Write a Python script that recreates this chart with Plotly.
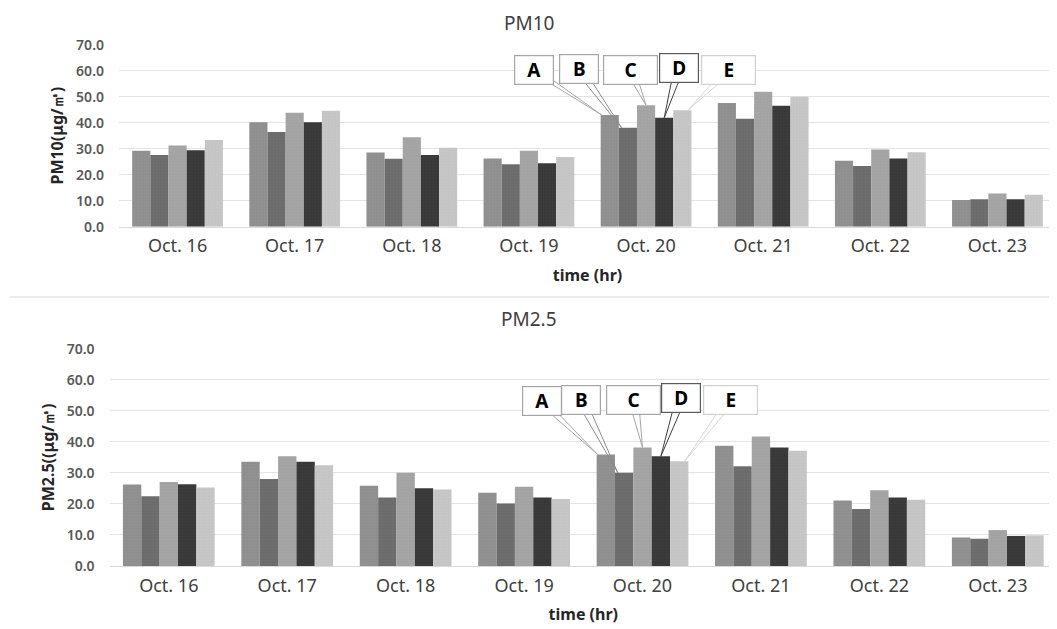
import plotly.graph_objects as go

categories = ["Oct. 16", "Oct. 17", "Oct. 18", "Oct. 19", "Oct. 20", "Oct. 21", "Oct. 22", "Oct. 23"]
series_names = ["A", "B", "C", "D", "E"]

pm10_A = [29.2, 40.2, 28.5, 26.2, 43.0, 47.6, 25.4, 10.3]
pm10_B = [27.6, 36.4, 26.1, 24.0, 38.1, 41.5, 23.3, 10.6]
pm10_C = [31.2, 43.8, 34.4, 29.2, 46.7, 51.9, 29.7, 12.8]
pm10_D = [29.4, 40.2, 27.6, 24.4, 41.9, 46.5, 26.2, 10.6]
pm10_E = [33.3, 44.6, 30.4, 26.8, 44.8, 50.0, 28.6, 12.3]

pm25_A = [26.3, 33.6, 25.9, 23.6, 36.0, 38.8, 21.1, 9.2]
pm25_B = [22.5, 28.1, 22.1, 20.2, 30.1, 32.2, 18.4, 8.8]
pm25_C = [27.1, 35.4, 30.1, 25.6, 38.2, 41.8, 24.4, 11.6]
pm25_D = [26.4, 33.6, 25.1, 22.1, 35.4, 38.2, 22.1, 9.7]
pm25_E = [25.3, 32.5, 24.7, 21.6, 33.8, 37.2, 21.4, 9.9]

pm10_series = [pm10_A, pm10_B, pm10_C, pm10_D, pm10_E]
pm25_series = [pm25_A, pm25_B, pm25_C, pm25_D, pm25_E]

bar_colors = ["#8e8e8e", "#6b6b6b", "#a2a2a2", "#383838", "#c4c4c4"]
pattern_colors = ["#9a9a9a", "#777777", "#adadad", "#444444", "#cfcfcf"]
callout_border = ["#a6a6a6", "#a6a6a6", "#a6a6a6", "#5a5a5a", "#d0d0d0"]
callout_line = ["#a6a6a6", "#8c8c8c", "#a6a6a6", "#404040", "#d6d6d6"]

FONT = "Noto Sans"
BARGAP = 0.225
ANNOT_CAT = 4  # Oct. 20

# page body has an 8px margin, so the figure is drawn 8px in from the window corner
W, H = 1049, 621

fig = go.Figure()

for i, name in enumerate(series_names):
    for vals, xa, ya in ((pm10_series[i], "x", "y"), (pm25_series[i], "x2", "y2")):
        fig.add_trace(go.Bar(
            x=categories, y=vals, name=name, xaxis=xa, yaxis=ya,
            marker=dict(color=bar_colors[i], line=dict(width=0),
                        pattern=dict(shape=".", fgcolor=pattern_colors[i], size=3, solidity=0.25)),
            offsetgroup=name, showlegend=False,
        ))

grid = "#e3e3e3"
yax = dict(range=[0, 70], dtick=10, tickformat=".1f", showgrid=True, gridcolor=grid,
           gridwidth=1, zeroline=False, showline=False, ticks="", ticklabelstandoff=14,
           tickfont=dict(family=FONT, size=14, color="#595959", weight=600), automargin=False,
           fixedrange=True)
xax = dict(type="category", showgrid=False, zeroline=False, showline=True, linecolor="#d9d9d9",
           linewidth=1, ticks="", tickfont=dict(family=FONT, size=18, color="#404040"),
           automargin=False, ticklabelstandoff=3)

xtitle_font = dict(family=FONT, size=16, color="#262626", weight="bold")
ytitle_font = dict(family=FONT, size=16, color="#262626", weight="bold")

fig.update_layout(
    width=W, height=H, margin=dict(l=0, r=0, t=0, b=0),
    paper_bgcolor="white", plot_bgcolor="white",
    barmode="group", bargap=BARGAP, bargroupgap=0,
    xaxis=dict(xax, domain=[0.10582, 0.99905], anchor="y",
               title=dict(text="time (hr)", font=xtitle_font, standoff=13)),
    yaxis=dict(yax, domain=[0.64783, 0.94090], anchor="x",
               title=dict(text="PM10(μg/㎥)", font=ytitle_font, standoff=8)),
    xaxis2=dict(xax, domain=[0.09685, 1.0], anchor="y2",
                title=dict(text="time (hr)", font=xtitle_font, standoff=13)),
    yaxis2=dict(yax, domain=[0.10145, 0.45089], anchor="x2",
                title=dict(text="PM2.5((μg/㎥)", font=ytitle_font, standoff=8)),
)

# chart titles
fig.add_annotation(text="PM10", xref="paper", yref="paper", x=520.5 / W, y=1.0,
                   showarrow=False, font=dict(family=FONT, size=19, color="#404040"),
                   xanchor="center", yanchor="top")
fig.add_annotation(text="PM2.5", xref="paper", yref="paper", x=520.5 / W, y=1 - 311 / H,
                   showarrow=False, font=dict(family=FONT, size=19, color="#404040"),
                   xanchor="center", yanchor="middle")

# separator between the two charts
fig.add_shape(type="line", xref="paper", yref="paper", x0=2 / W, x1=1042 / W,
              y0=1 - 289 / H, y1=1 - 289 / H, line=dict(color="#e6e6e6", width=1.5))

# callouts on Oct. 20
bar_w = (1 - BARGAP) / len(series_names)
tip_frac = [-0.45, -0.35, 0.0, 0.0, 0.3]
box_w = [38, 38, 53, 38, 53]
off_top = [(-68, -45), (-43, -59), (-16, -35), (15, -50), (41, -40)]
off_bot = [(-56, -53), (-37, -73), (-9, -48), (20, -58), (46, -61)]

for series, (xr, yr), offs in ((pm10_series, ("x", "y"), off_top), (pm25_series, ("x2", "y2"), off_bot)):
    for i, name in enumerate(series_names):
        tx = ANNOT_CAT + (i - 2) * bar_w + tip_frac[i] * bar_w
        ty = series[i][ANNOT_CAT]
        dx, dy = offs[i]
        for s in (-5, 5):
            fig.add_annotation(x=tx, y=ty, xref=xr, yref=yr, text="", showarrow=True,
                               arrowhead=0, arrowwidth=1, arrowcolor=callout_line[i],
                               ax=dx + s, ay=dy)
    for i, name in enumerate(series_names):
        tx = ANNOT_CAT + (i - 2) * bar_w + tip_frac[i] * bar_w
        ty = series[i][ANNOT_CAT]
        dx, dy = offs[i]
        fig.add_annotation(x=tx, y=ty, xref=xr, yref=yr, text=name, showarrow=False,
                           xshift=dx, yshift=-dy, xanchor="center", yanchor="middle",
                           width=box_w[i], height=28, bgcolor="white",
                           bordercolor=callout_border[i], borderwidth=1.2, borderpad=0,
                           font=dict(family=FONT, size=19, color="black", weight="bold"))

fig.write_html("out.html")
